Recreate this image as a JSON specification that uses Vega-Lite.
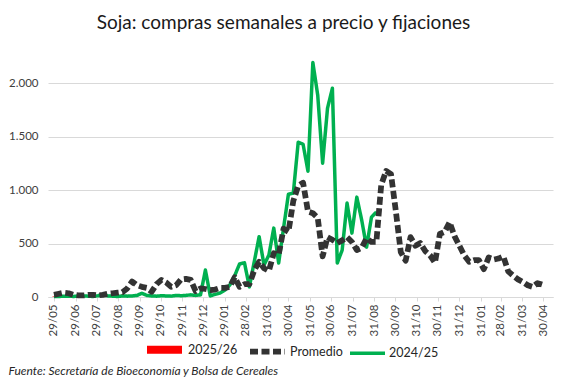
{
  "$schema": "https://vega.github.io/schema/vega-lite/v6.json",
  "autosize": {"type": "none"},
  "padding": {"left": 48, "top": 62, "right": 15, "bottom": 82},
  "width": 505,
  "height": 235,
  "background": "white",
  "config": {
    "font": "Lato",
    "view": {"stroke": null},
    "axis": {"labelFont": "Lato", "titleFont": "Lato", "labelColor": "#404040"}
  },
  "title": {
    "text": "Soja: compras semanales a precio y fijaciones",
    "font": "Lato",
    "fontSize": 19,
    "fontWeight": "normal",
    "color": "#1a1a1a",
    "anchor": "middle",
    "baseline": "alphabetic",
    "offset": 13,
    "dx": -17
  },
  "data": {
    "values": [
      {"fecha": "2024-05-29", "Promedio": 20, "2024/25": 5, "2025/26": 5},
      {"fecha": "2024-06-05", "Promedio": 30, "2024/25": 5, "2025/26": 3},
      {"fecha": "2024-06-12", "Promedio": 40, "2024/25": 8, "2025/26": 15},
      {"fecha": "2024-06-19", "Promedio": 35, "2024/25": 8, "2025/26": 10},
      {"fecha": "2024-06-26", "Promedio": 20, "2024/25": 5, "2025/26": 5},
      {"fecha": "2024-07-03", "Promedio": 15, "2024/25": 10, "2025/26": 3},
      {"fecha": "2024-07-10", "Promedio": 15, "2024/25": 10, "2025/26": 5},
      {"fecha": "2024-07-17", "Promedio": 20, "2024/25": 8, "2025/26": 8},
      {"fecha": "2024-07-24", "Promedio": 20, "2024/25": 5, "2025/26": 12},
      {"fecha": "2024-07-31", "Promedio": 15, "2024/25": 12, "2025/26": 10},
      {"fecha": "2024-08-07", "Promedio": 20, "2024/25": 25, "2025/26": 15},
      {"fecha": "2024-08-14", "Promedio": 30, "2024/25": 10, "2025/26": 8},
      {"fecha": "2024-08-21", "Promedio": 35, "2024/25": 8, "2025/26": 20},
      {"fecha": "2024-08-28", "Promedio": 40, "2024/25": 5, "2025/26": 30},
      {"fecha": "2024-09-04", "Promedio": 45, "2024/25": 10, "2025/26": 25},
      {"fecha": "2024-09-11", "Promedio": 80, "2024/25": 8, "2025/26": 20},
      {"fecha": "2024-09-18", "Promedio": 145, "2024/25": 10},
      {"fecha": "2024-09-25", "Promedio": 110, "2024/25": 15},
      {"fecha": "2024-10-02", "Promedio": 95, "2024/25": 35},
      {"fecha": "2024-10-09", "Promedio": 85, "2024/25": 15},
      {"fecha": "2024-10-16", "Promedio": 50, "2024/25": 10},
      {"fecha": "2024-10-23", "Promedio": 120, "2024/25": 8},
      {"fecha": "2024-10-30", "Promedio": 160, "2024/25": 12},
      {"fecha": "2024-11-06", "Promedio": 135, "2024/25": 10},
      {"fecha": "2024-11-13", "Promedio": 95, "2024/25": 8},
      {"fecha": "2024-11-20", "Promedio": 110, "2024/25": 15},
      {"fecha": "2024-11-27", "Promedio": 165, "2024/25": 12},
      {"fecha": "2024-12-04", "Promedio": 170, "2024/25": 15},
      {"fecha": "2024-12-11", "Promedio": 160, "2024/25": 20},
      {"fecha": "2024-12-18", "Promedio": 55, "2024/25": 15},
      {"fecha": "2024-12-25", "Promedio": 80, "2024/25": 20},
      {"fecha": "2025-01-01", "Promedio": 75, "2024/25": 252},
      {"fecha": "2025-01-08", "Promedio": 65, "2024/25": 10},
      {"fecha": "2025-01-15", "Promedio": 70, "2024/25": 25},
      {"fecha": "2025-01-22", "Promedio": 85, "2024/25": 37},
      {"fecha": "2025-01-29", "Promedio": 85, "2024/25": 65},
      {"fecha": "2025-02-05", "Promedio": 95, "2024/25": 112},
      {"fecha": "2025-02-12", "Promedio": 185, "2024/25": 200},
      {"fecha": "2025-02-19", "Promedio": 95, "2024/25": 310},
      {"fecha": "2025-02-26", "Promedio": 120, "2024/25": 320},
      {"fecha": "2025-03-05", "Promedio": 120, "2024/25": 95},
      {"fecha": "2025-03-12", "Promedio": 250, "2024/25": 330},
      {"fecha": "2025-03-19", "Promedio": 330, "2024/25": 565},
      {"fecha": "2025-03-26", "Promedio": 270, "2024/25": 299},
      {"fecha": "2025-04-02", "Promedio": 245, "2024/25": 393},
      {"fecha": "2025-04-09", "Promedio": 410, "2024/25": 645},
      {"fecha": "2025-04-16", "Promedio": 395, "2024/25": 318},
      {"fecha": "2025-04-23", "Promedio": 640, "2024/25": 645},
      {"fecha": "2025-04-30", "Promedio": 610, "2024/25": 963},
      {"fecha": "2025-05-07", "Promedio": 900, "2024/25": 972},
      {"fecha": "2025-05-14", "Promedio": 1040, "2024/25": 1449},
      {"fecha": "2025-05-21", "Promedio": 1070, "2024/25": 1430},
      {"fecha": "2025-05-28", "Promedio": 800, "2024/25": 1178},
      {"fecha": "2025-06-04", "Promedio": 785, "2024/25": 2195},
      {"fecha": "2025-06-11", "Promedio": 740, "2024/25": 1889},
      {"fecha": "2025-06-18", "Promedio": 380, "2024/25": 1253},
      {"fecha": "2025-06-25", "Promedio": 560, "2024/25": 1767},
      {"fecha": "2025-07-02", "Promedio": 535, "2024/25": 1954},
      {"fecha": "2025-07-09", "Promedio": 505, "2024/25": 318},
      {"fecha": "2025-07-16", "Promedio": 530, "2024/25": 439},
      {"fecha": "2025-07-23", "Promedio": 560, "2024/25": 879},
      {"fecha": "2025-07-30", "Promedio": 515, "2024/25": 598},
      {"fecha": "2025-08-06", "Promedio": 440, "2024/25": 935},
      {"fecha": "2025-08-13", "Promedio": 460, "2024/25": 720},
      {"fecha": "2025-08-20", "Promedio": 550, "2024/25": 467},
      {"fecha": "2025-08-27", "Promedio": 515, "2024/25": 748},
      {"fecha": "2025-09-03", "Promedio": 515, "2024/25": 795},
      {"fecha": "2025-09-10", "Promedio": 1050},
      {"fecha": "2025-09-17", "Promedio": 1180},
      {"fecha": "2025-09-24", "Promedio": 1150},
      {"fecha": "2025-10-01", "Promedio": 800},
      {"fecha": "2025-10-08", "Promedio": 420},
      {"fecha": "2025-10-15", "Promedio": 340},
      {"fecha": "2025-10-22", "Promedio": 560},
      {"fecha": "2025-10-29", "Promedio": 480},
      {"fecha": "2025-11-05", "Promedio": 505},
      {"fecha": "2025-11-12", "Promedio": 430},
      {"fecha": "2025-11-19", "Promedio": 390},
      {"fecha": "2025-11-26", "Promedio": 320},
      {"fecha": "2025-12-03", "Promedio": 590},
      {"fecha": "2025-12-10", "Promedio": 610},
      {"fecha": "2025-12-17", "Promedio": 700},
      {"fecha": "2025-12-24", "Promedio": 570},
      {"fecha": "2025-12-31", "Promedio": 480},
      {"fecha": "2026-01-07", "Promedio": 390},
      {"fecha": "2026-01-14", "Promedio": 330},
      {"fecha": "2026-01-21", "Promedio": 345},
      {"fecha": "2026-01-28", "Promedio": 345},
      {"fecha": "2026-02-04", "Promedio": 260},
      {"fecha": "2026-02-11", "Promedio": 370},
      {"fecha": "2026-02-18", "Promedio": 350},
      {"fecha": "2026-02-25", "Promedio": 360},
      {"fecha": "2026-03-04", "Promedio": 380},
      {"fecha": "2026-03-11", "Promedio": 240},
      {"fecha": "2026-03-18", "Promedio": 200},
      {"fecha": "2026-03-25", "Promedio": 165},
      {"fecha": "2026-04-01", "Promedio": 140},
      {"fecha": "2026-04-08", "Promedio": 110},
      {"fecha": "2026-04-15", "Promedio": 95},
      {"fecha": "2026-04-22", "Promedio": 130},
      {"fecha": "2026-04-29", "Promedio": 115}
    ]
  },
  "encoding": {
    "x": {
      "field": "fecha",
      "type": "temporal",
      "scale": {
        "type": "utc",
        "domain": [
          {"year": 2024, "month": 5, "date": 27, "hours": 14, "utc": true},
          {"year": 2026, "month": 5, "date": 7, "utc": true}
        ]
      },
      "axis": {
        "values": [
          {"year": 2024, "month": 5, "date": 29, "utc": true},
          {"year": 2024, "month": 6, "date": 29, "utc": true},
          {"year": 2024, "month": 7, "date": 29, "utc": true},
          {"year": 2024, "month": 8, "date": 29, "utc": true},
          {"year": 2024, "month": 9, "date": 29, "utc": true},
          {"year": 2024, "month": 10, "date": 29, "utc": true},
          {"year": 2024, "month": 11, "date": 29, "utc": true},
          {"year": 2024, "month": 12, "date": 29, "utc": true},
          {"year": 2025, "month": 1, "date": 29, "utc": true},
          {"year": 2025, "month": 2, "date": 28, "utc": true},
          {"year": 2025, "month": 3, "date": 31, "utc": true},
          {"year": 2025, "month": 4, "date": 30, "utc": true},
          {"year": 2025, "month": 5, "date": 31, "utc": true},
          {"year": 2025, "month": 6, "date": 30, "utc": true},
          {"year": 2025, "month": 7, "date": 31, "utc": true},
          {"year": 2025, "month": 8, "date": 31, "utc": true},
          {"year": 2025, "month": 9, "date": 30, "utc": true},
          {"year": 2025, "month": 10, "date": 31, "utc": true},
          {"year": 2025, "month": 11, "date": 30, "utc": true},
          {"year": 2025, "month": 12, "date": 31, "utc": true},
          {"year": 2026, "month": 1, "date": 31, "utc": true},
          {"year": 2026, "month": 2, "date": 28, "utc": true},
          {"year": 2026, "month": 3, "date": 31, "utc": true},
          {"year": 2026, "month": 4, "date": 30, "utc": true}
        ],
        "labelExpr": "utcFormat(datum.value, '%d/%m')",
        "labelAngle": 270,
        "labelAlign": "right",
        "labelBaseline": "middle",
        "labelFontSize": 11.5,
        "labelPadding": 3,
        "labelOverlap": false,
        "labelFlush": false,
        "grid": false,
        "domainColor": "#d9d9d9",
        "tickColor": "#d9d9d9",
        "tickSize": 4,
        "title": "Fuente: Secretaría de Bioeconomía y Bolsa de Cereales",
        "titleFontStyle": "italic",
        "titleFontWeight": "normal",
        "titleFontSize": 12,
        "titleColor": "#262626",
        "titleAnchor": null,
        "titleAlign": "left",
        "titleBaseline": "alphabetic",
        "titleX": -40,
        "titleY": 77
      }
    }
  },
  "layer": [
    {
      "mark": {"type": "bar", "color": "#ff0000", "size": 3},
      "encoding": {
        "y": {"field": "2025/26", "type": "quantitative"}
      }
    },
    {
      "transform": [
        {"fold": ["2024/25", "Promedio"], "as": ["serie", "valor"]}
      ],
      "mark": {"type": "line", "strokeCap": "butt", "strokeJoin": "round"},
      "encoding": {
        "y": {
          "field": "valor",
          "type": "quantitative",
          "scale": {"domain": [0, 2200], "nice": false},
          "axis": {
            "title": null,
            "values": [0, 500, 1000, 1500, 2000],
            "labelExpr": "replace(format(datum.value, ','), ',', '.')",
            "labelFontSize": 11.5,
            "labelPadding": 10,
            "ticks": false,
            "domain": false,
            "gridColor": "#d9d9d9",
            "gridWidth": 1
          }
        },
        "color": {
          "field": "serie",
          "type": "nominal",
          "scale": {
            "domain": ["2025/26", "Promedio", "2024/25"],
            "range": ["#ff0000", "#333333", "#00b050"]
          },
          "legend": {
            "title": null,
            "orient": "none",
            "direction": "horizontal",
            "legendX": 95,
            "legendY": 266,
            "symbolType": "stroke",
            "symbolSize": 1225,
            "labelFontSize": 12.5,
            "labelFont": "Lato",
            "labelColor": "#262626",
            "columnPadding": 0,
            "labelOffset": 2
          }
        },
        "strokeDash": {
          "field": "serie",
          "type": "nominal",
          "scale": {
            "domain": ["2025/26", "Promedio", "2024/25"],
            "range": [[1, 0], [8, 3.5], [1, 0]]
          },
          "legend": {"title": null}
        },
        "strokeWidth": {
          "field": "serie",
          "type": "nominal",
          "scale": {
            "domain": ["2025/26", "Promedio", "2024/25"],
            "range": [8, 3.5, 2]
          },
          "legend": {"title": null}
        }
      }
    }
  ]
}
